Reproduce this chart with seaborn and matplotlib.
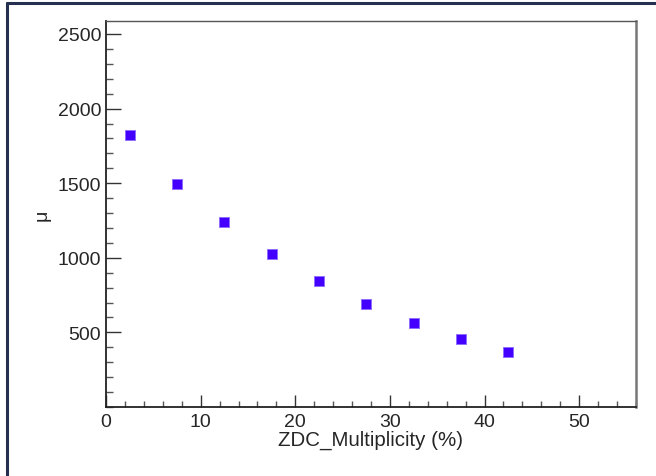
import matplotlib
matplotlib.use("Agg")
import matplotlib.pyplot as plt
from matplotlib.lines import Line2D
from matplotlib.ticker import MultipleLocator
import seaborn as sns
import pandas as pd

multiplicity = [2.5, 7.5, 12.5, 17.5, 22.5, 27.5, 32.5, 37.5, 42.5]
mu_values = [1823, 1496, 1239, 1024, 843, 688, 561, 453, 367]

sns.set_style("white")
plt.rcParams['font.family'] = ['Liberation Sans', 'DejaVu Sans']

df = pd.DataFrame({"x": multiplicity, "mu": mu_values})

fig = plt.figure(figsize=(6.56, 4.77), dpi=100)
ax = fig.add_axes([106/656, 1-408/477, (636-106)/656, (408-22)/477])

sns.scatterplot(data=df, x="x", y="mu", marker="s", s=52, color="#4400ff",
                edgecolor="#8a6bff", linewidth=0.6, ax=ax, zorder=3)

ax.set_xlim(0, 56)
ax.set_ylim(0, 2587)
ax.xaxis.set_major_locator(MultipleLocator(10))
ax.xaxis.set_minor_locator(MultipleLocator(2))
ax.set_yticks([500, 1000, 1500, 2000, 2500])
ax.yaxis.set_minor_locator(MultipleLocator(100))

ax.tick_params(axis='x', which='major', direction='in', length=8.6, width=1.0,
               color='#333333', labelsize=14, pad=4, bottom=True, top=False)
ax.tick_params(axis='x', which='minor', direction='in', length=4.3, width=1.0,
               color='#555555', bottom=True, top=False)
ax.tick_params(axis='y', which='major', direction='in', length=11, width=1.0,
               color='#333333', labelsize=14, pad=3.5, left=True, right=False)
ax.tick_params(axis='y', which='minor', direction='in', length=5.2, width=1.0,
               color='#555555', left=True, right=False)

ax.set_xlabel("ZDC_Multiplicity (%)", fontsize=14.8, labelpad=0)
ax.set_ylabel("μ", fontsize=14, labelpad=5)

for side in ['left', 'bottom']:
    ax.spines[side].set_color('#222222')
    ax.spines[side].set_linewidth(1.3)
ax.spines['top'].set_color('#555555')
ax.spines['top'].set_linewidth(1.0)
ax.spines['right'].set_color('#777777')
ax.spines['right'].set_linewidth(1.8)

# screenshot frame lines
fig.add_artist(Line2D([7/656, 1], [1-4/477, 1-4/477], transform=fig.transFigure,
                      color='#252f4f', linewidth=2.2))
fig.add_artist(Line2D([7/656, 7/656], [0, 1-4/477], transform=fig.transFigure,
                      color='#252f4f', linewidth=2.2))

fig.savefig("out.png", dpi=100)
